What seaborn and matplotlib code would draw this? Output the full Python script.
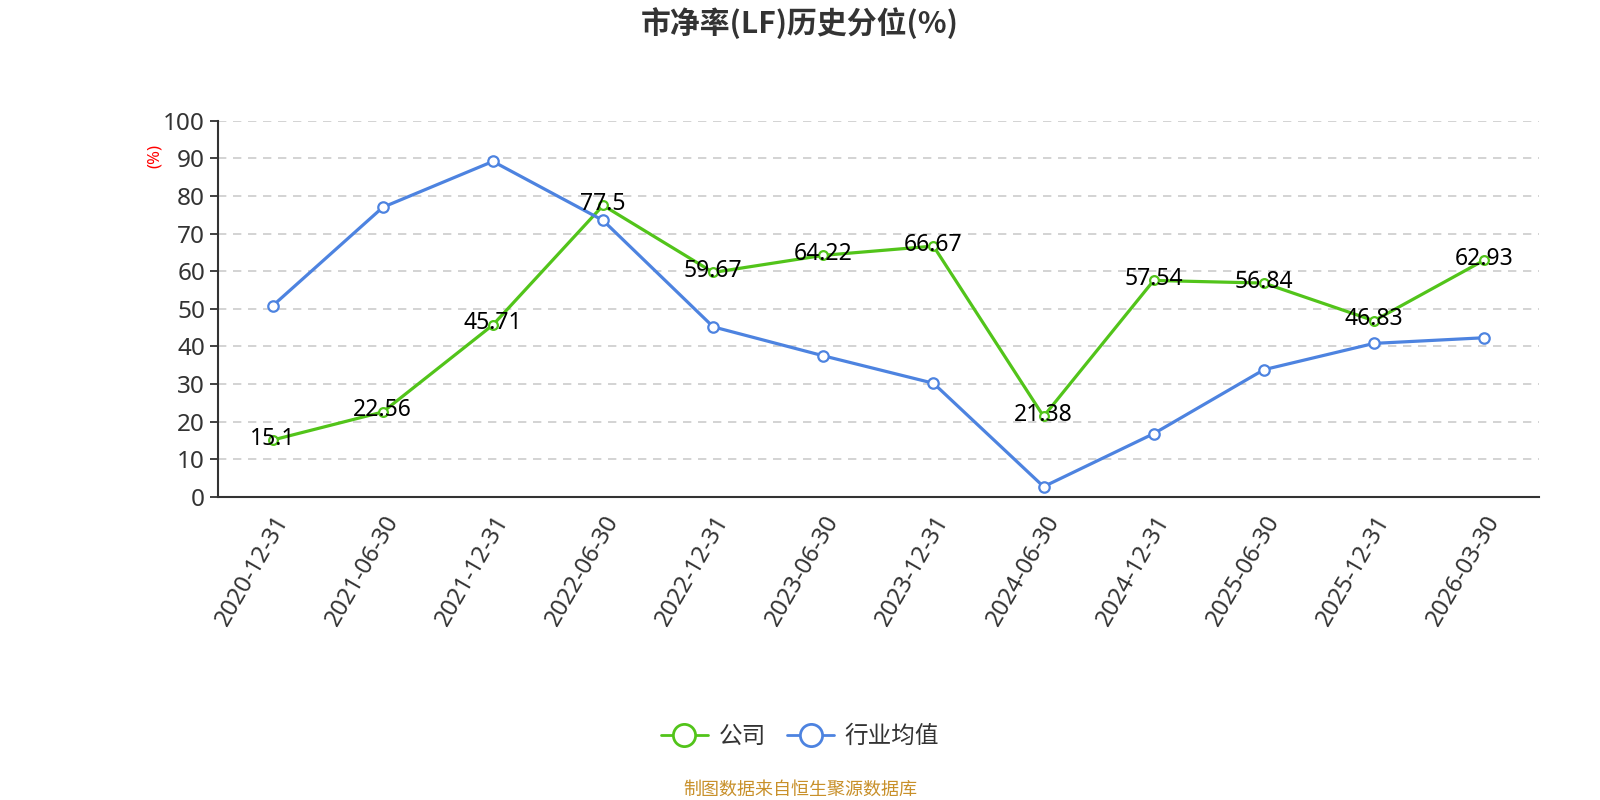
import matplotlib
matplotlib.use("Agg")
import matplotlib.pyplot as plt
import seaborn as sns
import pandas as pd
from matplotlib.lines import Line2D

dates = ["2020-12-31", "2021-06-30", "2021-12-31", "2022-06-30", "2022-12-31", "2023-06-30",
         "2023-12-31", "2024-06-30", "2024-12-31", "2025-06-30", "2025-12-31", "2026-03-30"]
company = [15.1, 22.56, 45.71, 77.5, 59.67, 64.22, 66.67, 21.38, 57.54, 56.84, 46.83, 62.93]
industry = [50.8, 77.0, 89.2, 73.5, 45.2, 37.5, 30.2, 2.7, 16.8, 33.8, 40.8, 42.3]
series_names = ["公司", "行业均值"]
title = "市净率(LF)历史分位(%)"
source = "制图数据来自恒生聚源数据库"

GREEN = "#52c41a"
BLUE = "#4d83e0"

sns.set_theme(style="white")
plt.rcParams["font.family"] = ["Noto Sans", "Noto Sans CJK SC", "DejaVu Sans"]

df = pd.DataFrame({
    "date": dates * 2,
    "value": company + industry,
    "series": [series_names[0]] * len(dates) + [series_names[1]] * len(dates),
})
df["pos"] = list(range(len(dates))) * 2

fig = plt.figure(figsize=(16, 8), dpi=100)
ax = fig.add_axes([0.136, 0.379, 0.826, 0.470])

palette = {series_names[0]: GREEN, series_names[1]: BLUE}
sns.lineplot(data=df, x="pos", y="value", hue="series", palette=palette, ax=ax,
             linewidth=2.3, legend=False, sort=False, zorder=3)
# hollow markers
for name, vals, ms in [(series_names[1], industry, 7.5), (series_names[0], company, 6.3)]:
    ax.plot(range(len(dates)), vals, linestyle="none", marker="o", markersize=ms,
            markerfacecolor="white", markeredgecolor=palette[name], markeredgewidth=1.6, zorder=4)

for i, v in enumerate(company):
    ax.text(i, v + 0.4, f"{v:g}", ha="center", va="center", fontsize=16.5, color="black", zorder=5)

ax.set_xlim(-0.5, len(dates) - 0.5)
ax.set_ylim(0, 100)
ax.set_yticks(range(0, 101, 10))
ax.set_yticklabels([str(t) for t in range(0, 101, 10)], fontsize=17.5, color="#333333")
ax.set_xticks(range(len(dates)))
ax.set_xticklabels(dates, rotation=60, ha="right", rotation_mode="anchor", fontsize=17, color="#333333")
ax.set_xticks([i - 0.5 for i in range(len(dates) + 1)], minor=True)
ax.tick_params(axis="x", which="major", length=0, pad=10)
ax.tick_params(axis="x", which="minor", length=6, width=1.3, color="#333333", direction="out")
ax.tick_params(axis="y", which="major", length=6, width=1.3, color="#333333", direction="out", left=True, pad=3)
ax.set_xlabel("")
ax.set_ylabel("")

for y in range(10, 101, 10):
    ax.axhline(y, color="#cccccc", linestyle=(0, (5, 4)), linewidth=1.2, zorder=1)

for s in ["top", "right"]:
    ax.spines[s].set_visible(False)
for s in ["left", "bottom"]:
    ax.spines[s].set_color("#333333")
    ax.spines[s].set_linewidth(1.5)

fig.text(0.097, 0.805, "(%)", rotation=90, color="red", fontsize=12, ha="center", va="center")
fig.text(0.5, 0.971, title, fontsize=21.5, fontweight="bold", color="#333333", ha="center", va="center",
         family=["Noto Sans CJK SC", "DejaVu Sans"])

handles = [Line2D([0], [0], color=GREEN, linewidth=2, marker="o", markersize=16,
                  markerfacecolor="white", markeredgecolor=GREEN, markeredgewidth=2),
           Line2D([0], [0], color=BLUE, linewidth=2, marker="o", markersize=16,
                  markerfacecolor="white", markeredgecolor=BLUE, markeredgewidth=2)]
fig.legend(handles, series_names, loc="center", bbox_to_anchor=(0.5, 0.079), ncol=2, frameon=False,
           fontsize=17, handlelength=2.0, columnspacing=0.9, handletextpad=0.45,
           labelcolor="#333333")

fig.text(0.5, 0.013, source, fontsize=13, color="#c8902a", ha="center", va="center")

fig.savefig("out.png", dpi=100)
